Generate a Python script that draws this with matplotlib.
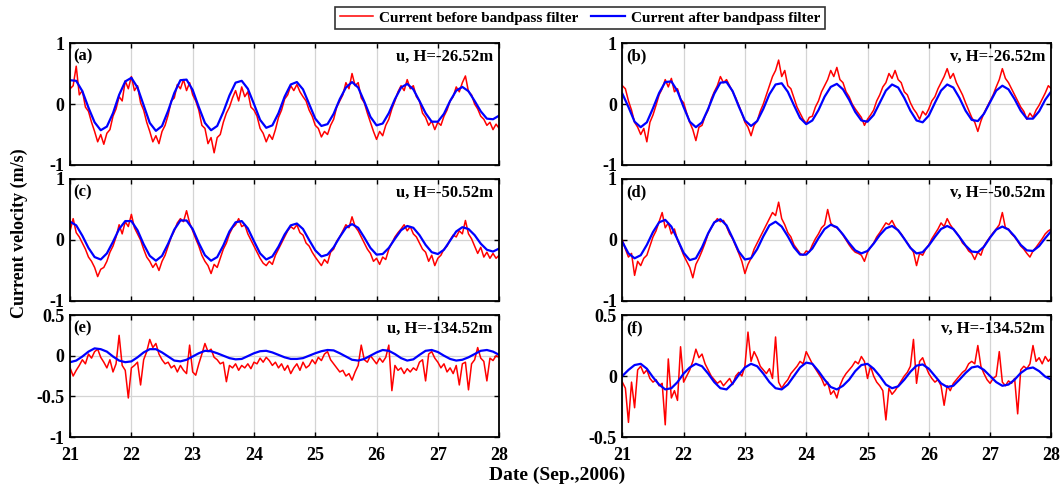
import numpy as np
import matplotlib
matplotlib.use("Agg")
import matplotlib.pyplot as plt
from matplotlib.ticker import FormatStrFormatter

plt.rcParams['font.family'] = ['Liberation Serif', 'DejaVu Serif']
plt.rcParams['font.weight'] = 'bold'
plt.rcParams['axes.unicode_minus'] = False

# time axes (days of Sep. 2006): raw record every 0.05 d, filtered curve every 0.1 d
days_raw = np.round(np.arange(21, 28.001, 0.05), 2)
days_filt = np.round(np.arange(21, 28.001, 0.1), 1)

# (a) u, H=-26.52m
u26_raw = [0.25, 0.30, 0.62, 0.15, 0.22, -0.05, -0.12, -0.30, -0.45, -0.62, -0.50, -0.66, -0.48, -0.42, -0.20, -0.08, 0.12, 0.05, 0.38, 0.25,
           0.45, 0.22, 0.30, 0.02, -0.10, -0.30, -0.45, -0.62, -0.52, -0.65, -0.45, -0.35, -0.18, 0.05, 0.10, 0.32, 0.25, 0.40, 0.22, 0.35,
           0.15, 0.05, -0.10, -0.35, -0.40, -0.65, -0.55, -0.80, -0.55, -0.50, -0.30, -0.15, -0.05, 0.10, 0.22, 0.05, 0.28, 0.12, 0.20, -0.05,
           -0.10, -0.20, -0.40, -0.48, -0.62, -0.50, -0.58, -0.42, -0.22, -0.10, 0.08, 0.15, 0.30, 0.22, 0.32, 0.20, 0.12, 0.05, -0.10, -0.20,
           -0.35, -0.40, -0.54, -0.45, -0.50, -0.35, -0.25, -0.05, 0.05, 0.15, 0.35, 0.25, 0.50, 0.30, 0.35, 0.10, 0.02, -0.15, -0.30, -0.45,
           -0.58, -0.45, -0.52, -0.35, -0.25, -0.08, 0.05, 0.20, 0.30, 0.22, 0.40, 0.25, 0.30, 0.12, 0.05, -0.15, -0.22, -0.35, -0.28, -0.42,
           -0.30, -0.35, -0.20, -0.10, 0.05, 0.12, 0.28, 0.20, 0.35, 0.46, 0.20, 0.15, 0.00, -0.08, -0.20, -0.25, -0.35, -0.30, -0.42, -0.33,
           -0.40]
u26_filt = [0.39, 0.38, 0.21, -0.06, -0.30, -0.43, -0.37, -0.15, 0.15, 0.37,
            0.43, 0.27, -0.02, -0.31, -0.44, -0.36, -0.11, 0.18, 0.39, 0.40,
            0.23, -0.05, -0.31, -0.43, -0.36, -0.13, 0.14, 0.35, 0.38, 0.25,
            0.00, -0.26, -0.39, -0.35, -0.15, 0.12, 0.32, 0.36, 0.24, 0.00,
            -0.24, -0.36, -0.33, -0.16, 0.08, 0.27, 0.36, 0.27, 0.04, -0.21,
            -0.35, -0.32, -0.15, 0.08, 0.27, 0.33, 0.24, 0.05, -0.15, -0.29,
            -0.29, -0.16, 0.05, 0.22, 0.28, 0.21, 0.05, -0.12, -0.24, -0.25,
            -0.19]

# (b) v, H=-26.52m
v26_raw = [0.30, 0.25, 0.05, -0.10, -0.30, -0.38, -0.50, -0.40, -0.62, -0.30, -0.18, -0.02, 0.15, 0.25, 0.40, 0.28, 0.42, 0.20, 0.25, 0.08,
           0.02, -0.15, -0.30, -0.42, -0.60, -0.38, -0.35, -0.20, -0.10, 0.08, 0.20, 0.30, 0.45, 0.35, 0.40, 0.30, 0.20, 0.10, -0.02, -0.15,
           -0.30, -0.38, -0.52, -0.35, -0.28, -0.12, 0.00, 0.15, 0.30, 0.45, 0.55, 0.72, 0.45, 0.55, 0.30, 0.25, 0.10, -0.05, -0.15, -0.25,
           -0.32, -0.22, -0.20, -0.05, 0.05, 0.20, 0.30, 0.40, 0.55, 0.45, 0.60, 0.40, 0.35, 0.20, 0.12, 0.00, -0.08, -0.15, -0.22, -0.35,
           -0.25, -0.18, -0.10, 0.05, 0.15, 0.28, 0.35, 0.50, 0.42, 0.55, 0.40, 0.35, 0.20, 0.15, 0.02, -0.08, -0.15, -0.25, -0.12, -0.18,
           -0.08, 0.05, 0.12, 0.25, 0.35, 0.45, 0.58, 0.42, 0.50, 0.35, 0.25, 0.15, 0.02, -0.10, -0.22, -0.30, -0.45, -0.28, -0.15, -0.05,
           0.05, 0.15, 0.28, 0.40, 0.58, 0.42, 0.35, 0.25, 0.15, 0.05, -0.05, -0.12, -0.25, -0.15, -0.22, -0.10, -0.02, 0.08, 0.18, 0.30,
           0.25]
v26_filt = [0.17, -0.05, -0.29, -0.38, -0.30, -0.07, 0.18, 0.36, 0.37, 0.21,
            -0.05, -0.29, -0.38, -0.30, -0.08, 0.17, 0.35, 0.36, 0.21, -0.04,
            -0.27, -0.36, -0.28, -0.08, 0.16, 0.32, 0.34, 0.20, -0.02, -0.23,
            -0.33, -0.27, -0.10, 0.12, 0.28, 0.33, 0.24, 0.07, -0.13, -0.27,
            -0.29, -0.18, 0.02, 0.22, 0.32, 0.27, 0.10, -0.11, -0.27, -0.30,
            -0.19, 0.02, 0.22, 0.32, 0.27, 0.10, -0.11, -0.26, -0.28, -0.16,
            0.03, 0.22, 0.30, 0.24, 0.08, -0.11, -0.24, -0.24, -0.12, 0.07,
            0.21]

# (c) u, H=-50.52m
u50_raw = [0.15, 0.35, 0.12, 0.05, -0.05, -0.15, -0.28, -0.35, -0.45, -0.60, -0.48, -0.45, -0.35, -0.20, -0.10, 0.05, 0.25, 0.10, 0.30, 0.22,
           0.42, 0.20, 0.10, 0.00, -0.15, -0.28, -0.35, -0.45, -0.38, -0.50, -0.35, -0.25, -0.10, 0.05, 0.15, 0.28, 0.35, 0.30, 0.48, 0.28,
           0.15, 0.02, -0.10, -0.25, -0.35, -0.42, -0.55, -0.40, -0.45, -0.30, -0.15, -0.05, 0.10, 0.20, 0.25, 0.35, 0.22, 0.25, 0.10, 0.00,
           -0.10, -0.20, -0.30, -0.38, -0.42, -0.35, -0.40, -0.25, -0.15, -0.05, 0.05, 0.15, 0.22, 0.18, 0.25, 0.12, 0.08, -0.05, -0.10, -0.20,
           -0.28, -0.35, -0.42, -0.32, -0.38, -0.20, -0.15, -0.02, 0.05, 0.15, 0.25, 0.20, 0.38, 0.22, 0.15, 0.05, -0.05, -0.15, -0.22, -0.35,
           -0.30, -0.40, -0.28, -0.32, -0.15, -0.05, 0.05, 0.12, 0.18, 0.25, 0.15, 0.22, 0.10, 0.05, -0.05, -0.15, -0.20, -0.35, -0.25, -0.42,
           -0.30, -0.25, -0.15, -0.10, 0.00, 0.08, 0.05, 0.15, 0.10, 0.32, 0.10, 0.02, -0.10, -0.22, -0.12, -0.28, -0.20, -0.30, -0.22, -0.30,
           -0.25]
u50_filt = [0.30, 0.24, 0.07, -0.13, -0.28, -0.32, -0.22, -0.03, 0.18, 0.31,
            0.31, 0.16, -0.07, -0.26, -0.34, -0.26, -0.06, 0.17, 0.32, 0.32,
            0.18, -0.05, -0.25, -0.34, -0.28, -0.09, 0.14, 0.29, 0.31, 0.19,
            -0.02, -0.22, -0.32, -0.27, -0.11, 0.09, 0.24, 0.27, 0.18, 0.00,
            -0.17, -0.27, -0.24, -0.12, 0.05, 0.20, 0.26, 0.20, 0.04, -0.13,
            -0.24, -0.23, -0.13, 0.02, 0.16, 0.23, 0.20, 0.08, -0.08, -0.20,
            -0.23, -0.16, -0.01, 0.14, 0.21, 0.18, 0.08, -0.06, -0.16, -0.19,
            -0.14]

# (d) v, H=-50.52m
v50_raw = [0.00, -0.15, -0.28, -0.22, -0.58, -0.35, -0.42, -0.30, -0.25, -0.10, 0.05, 0.15, 0.30, 0.45, 0.20, 0.28, 0.10, 0.18, 0.00, -0.12,
           -0.25, -0.35, -0.45, -0.62, -0.40, -0.30, -0.18, -0.05, 0.10, 0.20, 0.28, 0.35, 0.30, 0.32, 0.22, 0.10, 0.02, -0.10, -0.22, -0.35,
           -0.55, -0.40, -0.30, -0.15, -0.05, 0.05, 0.15, 0.25, 0.35, 0.45, 0.40, 0.62, 0.35, 0.25, 0.12, 0.05, -0.08, -0.15, -0.22, -0.25,
           -0.18, -0.20, -0.08, 0.02, 0.10, 0.20, 0.25, 0.50, 0.28, 0.22, 0.20, 0.15, 0.08, 0.00, -0.08, -0.15, -0.20, -0.22, -0.25, -0.35,
           -0.20, -0.12, -0.05, 0.05, 0.12, 0.20, 0.28, 0.25, 0.32, 0.22, 0.15, 0.10, 0.02, -0.05, -0.12, -0.20, -0.42, -0.22, -0.25, -0.15,
           -0.08, 0.02, 0.10, 0.18, 0.28, 0.22, 0.35, 0.25, 0.18, 0.12, 0.05, -0.05, -0.10, -0.18, -0.22, -0.32, -0.20, -0.25, -0.10, -0.02,
           0.05, 0.12, 0.18, 0.25, 0.45, 0.20, 0.18, 0.10, 0.05, -0.02, -0.10, -0.15, -0.22, -0.28, -0.18, -0.12, -0.05, 0.02, 0.10, 0.15,
           0.18]
v50_filt = [-0.03, -0.22, -0.30, -0.25, -0.08, 0.13, 0.29, 0.33, 0.22, 0.01,
            -0.21, -0.33, -0.30, -0.12, 0.11, 0.29, 0.34, 0.24, 0.03, -0.19,
            -0.32, -0.30, -0.15, 0.06, 0.24, 0.30, 0.22, 0.06, -0.12, -0.24,
            -0.24, -0.14, 0.03, 0.18, 0.25, 0.21, 0.09, -0.05, -0.17, -0.22,
            -0.18, -0.06, 0.08, 0.19, 0.23, 0.16, 0.02, -0.13, -0.22, -0.20,
            -0.09, 0.05, 0.18, 0.23, 0.18, 0.05, -0.09, -0.19, -0.20, -0.11,
            0.04, 0.17, 0.22, 0.17, 0.06, -0.08, -0.17, -0.18, -0.10, 0.03,
            0.15]

# (e) u, H=-134.52m
u134_raw = [-0.15, -0.25, -0.18, -0.12, -0.05, -0.10, 0.02, -0.03, 0.05, 0.08, -0.02, -0.08, -0.15, -0.05, -0.20, -0.10, 0.25, -0.12, -0.18, -0.52,
            -0.15, -0.12, -0.08, -0.36, -0.05, 0.05, 0.20, 0.10, 0.15, 0.02, -0.05, -0.10, -0.08, -0.15, -0.12, -0.20, -0.12, -0.18, -0.22, 0.13,
            -0.20, -0.24, -0.10, 0.02, 0.15, 0.05, 0.08, -0.02, -0.05, -0.10, -0.08, -0.32, -0.12, -0.15, -0.10, -0.18, -0.12, -0.15, -0.10, -0.16,
            -0.08, -0.10, -0.03, -0.08, -0.02, -0.06, -0.12, -0.08, -0.15, -0.10, -0.18, -0.12, -0.22, -0.15, -0.10, -0.18, -0.08, -0.15, -0.12, -0.05,
            -0.10, -0.02, -0.06, 0.02, 0.05, -0.05, -0.10, -0.15, -0.20, -0.18, -0.25, -0.22, -0.30, -0.20, -0.12, 0.13, -0.05, -0.08, 0.00, -0.05,
            -0.10, -0.03, -0.08, -0.02, 0.13, -0.43, -0.12, -0.18, -0.15, -0.22, -0.16, -0.20, -0.15, -0.18, -0.08, -0.05, -0.31, 0.02, 0.05, -0.03,
            -0.08, -0.15, -0.10, -0.20, -0.15, -0.22, -0.12, -0.36, -0.10, -0.08, -0.42, -0.10, -0.05, 0.10, -0.03, -0.07, -0.31, -0.03, -0.06, 0.00,
            -0.02]
u134_filt = [-0.08, -0.06, -0.01, 0.05, 0.09, 0.08, 0.05, -0.01, -0.06, -0.08,
             -0.07, -0.02, 0.04, 0.08, 0.08, 0.04, -0.01, -0.06, -0.07, -0.05,
             -0.01, 0.03, 0.06, 0.055, 0.03, 0.00, -0.03, -0.045, -0.04, -0.005,
             0.03, 0.055, 0.06, 0.04, 0.01, -0.02, -0.04, -0.04, -0.03, 0.00,
             0.03, 0.055, 0.07, 0.065, 0.03, -0.01, -0.05, -0.06, -0.04, 0.00,
             0.04, 0.07, 0.06, 0.02, -0.03, -0.06, -0.045, 0.01, 0.06, 0.07,
             0.045, 0.00, -0.04, -0.06, -0.05, -0.02, 0.02, 0.06, 0.07, 0.05,
             0.01]

# (f) v, H=-134.52m
v134_raw = [-0.05, -0.10, -0.38, -0.05, -0.26, 0.05, 0.08, 0.02, 0.05, -0.02, -0.05, -0.03, -0.08, -0.06, -0.40, 0.14, -0.18, -0.12, -0.20, 0.24,
            -0.05, 0.00, 0.05, 0.12, 0.22, 0.15, 0.18, 0.10, 0.05, 0.00, -0.03, -0.06, -0.04, -0.08, -0.05, -0.02, -0.07, 0.00, 0.03, 0.00,
            0.08, 0.36, 0.12, 0.20, 0.15, 0.08, 0.05, 0.02, 0.06, -0.02, 0.32, -0.05, -0.10, -0.06, -0.03, 0.02, 0.05, 0.08, 0.12, 0.10,
            0.20, 0.15, 0.10, 0.06, 0.02, -0.02, -0.08, -0.05, -0.15, -0.12, -0.18, -0.08, -0.02, 0.02, 0.05, 0.08, 0.12, 0.10, 0.16, 0.12,
            -0.02, 0.08, 0.00, -0.05, -0.08, -0.12, -0.36, -0.10, -0.15, -0.12, -0.08, -0.04, 0.00, 0.03, 0.08, 0.30, -0.06, 0.12, 0.15, 0.08,
            0.02, -0.02, -0.05, -0.03, -0.08, -0.24, -0.08, -0.12, -0.06, -0.03, 0.00, 0.03, 0.05, 0.10, 0.12, 0.10, 0.25, 0.08, 0.02, -0.03,
            -0.06, -0.02, 0.00, 0.20, -0.05, -0.08, -0.04, -0.06, -0.02, -0.31, 0.05, 0.08, 0.06, 0.10, 0.25, 0.12, 0.15, 0.10, 0.16, 0.12,
            0.15]
v134_filt = [0.00, 0.05, 0.09, 0.10, 0.06, -0.01, -0.07, -0.11, -0.10, -0.05,
             0.02, 0.07, 0.10, 0.08, 0.02, -0.05, -0.10, -0.11, -0.06, 0.01,
             0.07, 0.10, 0.08, 0.02, -0.05, -0.10, -0.11, -0.07, 0.00, 0.07,
             0.11, 0.10, 0.04, -0.03, -0.09, -0.11, -0.08, -0.03, 0.04, 0.09,
             0.10, 0.06, 0.00, -0.07, -0.10, -0.085, -0.03, 0.035, 0.085, 0.095,
             0.06, 0.00, -0.06, -0.09, -0.08, -0.03, 0.025, 0.07, 0.08, 0.05,
             0.00, -0.05, -0.08, -0.07, -0.03, 0.025, 0.06, 0.07, 0.04, -0.005,
             -0.03]

panel_tags = ['(a)', '(b)', '(c)', '(d)', '(e)', '(f)']
panel_titles = ['u, H=-26.52m', 'v, H=-26.52m', 'u, H=-50.52m',
                'v, H=-50.52m', 'u, H=-134.52m', 'v, H=-134.52m']
raw_series = [u26_raw, v26_raw, u50_raw, v50_raw, u134_raw, v134_raw]
filt_series = [u26_filt, v26_filt, u50_filt, v50_filt, u134_filt, v134_filt]
y_limits = [(-1, 1), (-1, 1), (-1, 1), (-1, 1), (-1, 0.5), (-0.5, 0.5)]
y_ticks = [[-1, 0, 1], [-1, 0, 1], [-1, 0, 1], [-1, 0, 1],
           [-1, -0.5, 0, 0.5], [-0.5, 0, 0.5]]
x_ticks = [21, 22, 23, 24, 25, 26, 27, 28]

fig = plt.figure(figsize=(10.62, 4.86), dpi=100)

col_left = [0.066, 0.586]
row_bottom = [0.6605, 0.3807, 0.1008]
ax_w, ax_h = 0.404, 0.251

for i in range(6):
    row, col = divmod(i, 2)
    ax = fig.add_axes([col_left[col], row_bottom[row], ax_w, ax_h])
    l1, = ax.plot(days_raw, raw_series[i], color='#ff0000', lw=1.1,
                  label='Current before bandpass filter')
    l2, = ax.plot(days_filt, filt_series[i], color='#0000ff', lw=1.6,
                  label='Current after bandpass filter')
    ax.set_xlim(21, 28)
    ax.set_ylim(*y_limits[i])
    ax.set_xticks(x_ticks)
    ax.set_yticks(y_ticks[i])
    ax.yaxis.set_major_formatter(FormatStrFormatter('%g'))
    ax.grid(True, color='#d4d4d4', lw=0.9)
    ax.set_axisbelow(True)
    ax.tick_params(direction='in', top=True, right=True, length=3.5,
                   width=1.0, labelsize=13)
    ax.tick_params(axis='x', pad=7)
    ax.tick_params(axis='y', pad=4)
    if row < 2:
        ax.tick_params(labelbottom=False)
    for s in ax.spines.values():
        s.set_linewidth(1.3)
    ax.text(0.008, 0.955, panel_tags[i], transform=ax.transAxes,
            ha='left', va='top', fontsize=12, fontweight='bold')
    ax.text(0.985, 0.955, panel_titles[i], transform=ax.transAxes,
            ha='right', va='top', fontsize=12, fontweight='bold')
    if i == 0:
        handles = [l1, l2]

leg = fig.legend(handles, [h.get_label() for h in handles], loc='center',
                 bbox_to_anchor=(0.546, 0.963), ncol=2, fontsize=11,
                 frameon=True, fancybox=False, edgecolor='black',
                 handlelength=2.2, handletextpad=0.4, columnspacing=0.8,
                 borderpad=0.3)
leg.get_frame().set_linewidth(1.2)

fig.text(0.018, 0.52, 'Current velocity (m/s)', rotation=90,
         ha='center', va='center', fontsize=13, fontweight='bold')
fig.text(0.525, 0.022, 'Date (Sep.,2006)', ha='center', va='center',
         fontsize=14, fontweight='bold')

fig.savefig('out.png', dpi=100)
